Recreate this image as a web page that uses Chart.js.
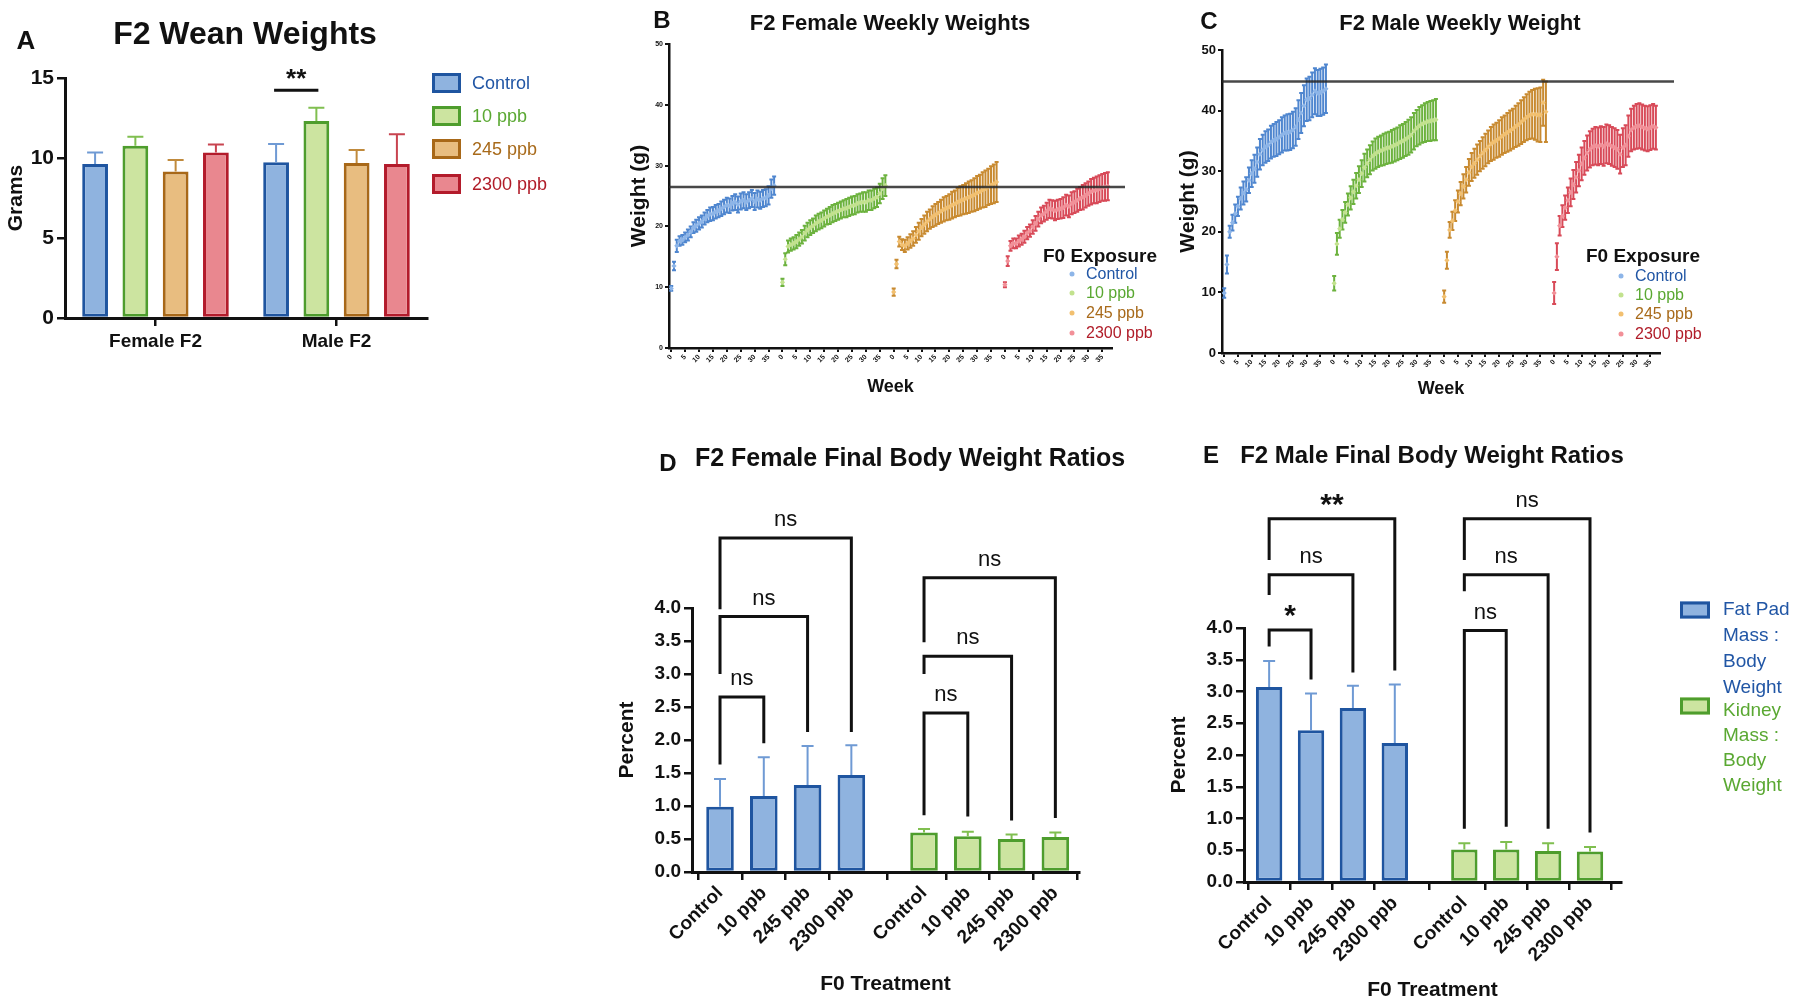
<!DOCTYPE html>
<html>
<head>
<meta charset="utf-8">
<script src="https://cdn.jsdelivr.net/npm/chart.js@4.4.1/dist/chart.umd.min.js"></script>
<style>
  body { margin: 0; background: #fff; width: 1800px; height: 1005px; position: relative; overflow: hidden;
         font-family: 'Liberation Sans', Arial, sans-serif; color: #111; }
  .pane { position: absolute; }
  .txt { position: absolute; white-space: nowrap; transform: translate(-50%, -50%); font-weight: bold; }
  .lbl { position: absolute; white-space: nowrap; transform: translateY(-50%); }
  .swatch { position: absolute; box-sizing: border-box; border: 3px solid; transform: translateY(-50%); }
  .dot { position: absolute; width: 5px; height: 5px; border-radius: 50%; transform: translate(-50%, -50%); }
</style>
</head>
<body>

<div class="pane" style="left:0;top:0"><canvas id="cA" width="600" height="420"></canvas></div>
<div class="pane" style="left:600px;top:0"><canvas id="cB" width="560" height="420"></canvas></div>
<div class="pane" style="left:1160px;top:0"><canvas id="cC" width="640" height="420"></canvas></div>
<div class="pane" style="left:600px;top:420px"><canvas id="cD" width="540" height="585"></canvas></div>
<div class="pane" style="left:1140px;top:420px"><canvas id="cE" width="660" height="585"></canvas></div>

<!-- panel letters + titles -->
<div class="txt" style="left:26px;top:40px;font-size:26px">A</div>
<div class="txt" style="left:245px;top:33px;font-size:32px">F2 Wean Weights</div>
<div class="txt" style="left:662px;top:20px;font-size:24px">B</div>
<div class="txt" style="left:890px;top:23px;font-size:22px">F2 Female Weekly Weights</div>
<div class="txt" style="left:1209px;top:21px;font-size:24px">C</div>
<div class="txt" style="left:1460px;top:23px;font-size:22px">F2 Male Weekly Weight</div>
<div class="txt" style="left:668px;top:463px;font-size:24px">D</div>
<div class="txt" style="left:910px;top:457px;font-size:25px">F2 Female Final Body Weight Ratios</div>
<div class="txt" style="left:1211px;top:455px;font-size:24px">E</div>
<div class="txt" style="left:1432px;top:455px;font-size:24px">F2 Male Final Body Weight Ratios</div>

<div id="legA"></div>
<div id="legB"></div>
<div id="legC"></div>
<div id="legE"></div>

<script>
// ---- data ----
const treatments = ['Control', '10 ppb', '245 ppb', '2300 ppb'];

// A: wean weights (g), [Female F2, Male F2]
const weanGroups = ['Female F2', 'Male F2'];
const weanControl = [9.63, 9.73];
const wean10 = [10.77, 12.31];
const wean245 = [9.15, 9.69];
const wean2300 = [10.35, 9.63];
const weanControlErr = [0.72, 1.14];
const wean10Err = [0.56, 0.83];
const wean245Err = [0.73, 0.81];
const wean2300Err = [0.50, 1.85];
const weanSigY = 14.24;

// B / C: weekly weights
const weeks = [0,1,2,3,4,5,6,7,8,9,10,11,12,13,14,15,16,17,18,19,20,21,22,23,24,25,26,27,28,29,30,31,32,33,34,35,36,37];
const groupOffsets = [0, 40, 80, 120];
const weekTickVals = [0, 5, 10, 15, 20, 25, 30, 35];
const weekTickLabels = ['0', '5', '10', '15', '20', '25', '30', '35'];

const femControl = [9.8,13.5,16.8,17.6,17.8,18.2,18.6,19.1,19.8,20.1,20.5,20.8,21.3,21.7,22.0,22.1,22.4,22.6,22.9,23.2,23.5,23.4,23.8,24.0,23.6,24.1,24.3,24.0,24.3,24.6,24.1,24.5,24.3,24.6,24.7,25.1,26.2,26.7];
const femControlSd = [0.4,0.7,1.0,0.8,0.8,0.8,0.9,0.9,0.9,1.0,1.0,1.0,1.0,1.0,1.1,1.1,1.1,1.1,1.2,1.2,1.2,1.2,1.2,1.3,1.3,1.3,1.3,1.3,1.3,1.4,1.4,1.4,1.4,1.4,1.4,1.5,1.5,1.5];
const fem10 = [10.8,14.6,16.7,17.0,17.2,17.5,17.9,18.3,18.9,19.4,19.8,20.1,20.5,20.8,21.0,21.3,21.6,21.8,22.1,22.3,22.5,22.7,22.9,23.0,23.2,23.4,23.5,23.8,23.9,24.0,24.0,24.3,24.3,24.6,24.8,25.4,26.2,26.7];
const fem10Sd = [0.6,1.0,1.0,1.0,1.0,1.1,1.1,1.1,1.2,1.2,1.2,1.2,1.3,1.3,1.3,1.3,1.3,1.4,1.4,1.4,1.4,1.4,1.4,1.5,1.5,1.5,1.5,1.5,1.5,1.6,1.6,1.6,1.6,1.6,1.6,1.6,1.7,1.7];
const fem245 = [9.2,13.8,17.5,17.0,16.8,17.2,17.6,18.0,18.6,19.2,19.8,20.3,20.8,21.2,21.6,21.9,22.2,22.5,22.8,23.0,23.2,23.5,23.7,24.0,24.2,24.4,24.6,24.8,25.0,25.2,25.5,25.7,26.0,26.2,26.5,26.8,27.0,27.3];
const fem245Sd = [0.6,0.7,0.8,0.9,1.0,1.0,1.1,1.2,1.3,1.4,1.4,1.5,1.6,1.6,1.7,1.8,1.8,1.9,2.0,2.0,2.1,2.2,2.2,2.3,2.4,2.4,2.5,2.6,2.6,2.7,2.8,2.8,2.9,3.0,3.0,3.1,3.2,3.3];
const fem2300 = [10.4,14.3,16.8,17.2,17.2,17.6,17.9,18.3,18.9,19.3,19.9,20.5,21.2,21.8,22.1,22.5,22.9,22.8,22.6,22.8,22.9,23.1,23.5,23.3,23.8,24.0,24.3,24.6,24.8,25.1,25.4,25.7,25.9,26.0,26.2,26.4,26.5,26.6];
const fem2300Sd = [0.4,0.8,0.8,0.8,0.8,0.9,0.9,1.0,1.0,1.0,1.1,1.2,1.2,1.3,1.3,1.4,1.5,1.5,1.6,1.6,1.6,1.7,1.7,1.8,1.8,1.8,1.9,1.9,2.0,2.0,2.0,2.1,2.1,2.2,2.2,2.2,2.3,2.3];
const femRefLine = 26.5;

const maleControl = [9.9,14.6,20.0,21.5,23.0,24.2,25.5,26.4,27.0,28.5,29.6,30.4,31.5,32.8,33.5,34.0,34.3,34.8,35.1,35.3,35.6,36.0,36.3,36.4,36.5,36.8,37.3,38.5,39.6,40.8,41.8,42.0,42.6,43.2,42.9,43.0,43.2,43.6];
const maleControlSd = [0.8,1.5,1.0,1.3,1.5,1.6,1.8,1.9,2.0,2.1,2.2,2.3,2.4,2.5,2.5,2.6,2.6,2.7,2.7,2.8,2.8,2.9,2.9,3.0,3.0,3.0,3.1,3.2,3.3,3.4,3.5,3.6,3.7,3.8,3.8,3.9,3.9,4.0];
const male10 = [11.5,18.0,20.5,22.0,23.2,24.5,25.6,26.6,27.6,28.6,29.6,30.6,31.3,31.9,32.5,32.9,33.2,33.4,33.6,33.8,33.9,34.1,34.3,34.5,34.8,35.0,35.3,35.6,36.0,36.6,37.1,37.5,37.8,38.0,38.2,38.3,38.4,38.5];
const male10Sd = [1.2,1.8,1.5,1.6,1.7,1.8,1.9,2.0,2.1,2.2,2.2,2.3,2.3,2.4,2.4,2.5,2.5,2.5,2.6,2.6,2.6,2.7,2.7,2.7,2.8,2.8,2.8,2.9,2.9,3.0,3.0,3.1,3.1,3.2,3.2,3.3,3.3,3.4];
const male245 = [9.3,15.3,20.3,21.8,23.5,25.0,26.3,27.5,28.6,29.8,30.7,31.3,31.9,32.5,33.0,33.5,34.0,34.5,34.8,35.1,35.4,35.8,36.1,36.4,36.7,37.0,37.4,37.7,38.1,38.5,38.9,39.2,39.4,39.4,39.3,39.3,41.3,39.8];
const male245Sd = [1.0,1.4,1.3,1.5,1.7,1.8,1.9,2.0,2.1,2.2,2.3,2.4,2.5,2.5,2.6,2.7,2.7,2.8,2.9,2.9,3.0,3.1,3.1,3.2,3.3,3.3,3.4,3.5,3.6,3.7,3.8,3.9,4.0,4.2,4.4,4.5,3.8,5.0];
const male2300 = [9.9,15.9,21.0,22.6,24.0,25.2,26.5,27.8,29.0,30.1,31.2,32.2,33.0,33.6,34.0,34.2,34.1,34.3,34.1,34.5,34.4,34.1,33.9,33.6,32.8,33.9,34.3,35.8,36.8,37.2,37.4,37.5,37.3,37.1,37.0,37.2,37.4,37.2];
const male2300Sd = [1.8,2.2,1.6,1.8,2.0,2.1,2.3,2.4,2.5,2.6,2.7,2.8,2.9,3.0,3.0,3.1,3.1,3.1,3.2,3.2,3.2,3.2,3.2,3.2,3.2,3.2,3.3,3.4,3.5,3.6,3.7,3.7,3.7,3.7,3.7,3.7,3.7,3.6];
const maleRefLine = 44.8;

// D / E: final body weight ratios (%)
const barX = [0, 1, 2, 3, 4.66, 5.66, 6.66, 7.66];
const femFat = [0.99, 1.15, 1.32, 1.47];
const femFatErr = [0.42, 0.59, 0.59, 0.45];
const femKidney = [0.60, 0.54, 0.50, 0.53];
const femKidneyErr = [0.05, 0.07, 0.07, 0.07];
const maleFat = [3.07, 2.39, 2.74, 2.19];
const maleFatErr = [0.41, 0.58, 0.35, 0.92];
const maleKidney = [0.51, 0.51, 0.49, 0.48];
const maleKidneyErr = [0.10, 0.12, 0.12, 0.07];

// brackets: [from bar, to bar, top, left leg end, right leg end, label]
const femBrackets = [
  [0, 1, 2.65, 1.63, 1.95, 'ns'],
  [0, 2, 3.87, 3.00, 2.12, 'ns'],
  [0, 3, 5.06, 3.98, 2.12, 'ns'],
  [4, 5, 2.41, 0.86, 0.84, 'ns'],
  [4, 6, 3.27, 3.00, 0.78, 'ns'],
  [4, 7, 4.46, 3.48, 0.82, 'ns']
];
const maleBrackets = [
  [0, 1, 3.97, 3.71, 3.19, '*'],
  [0, 2, 4.84, 4.52, 3.30, 'ns'],
  [0, 3, 5.72, 5.07, 3.33, '**'],
  [4, 5, 3.96, 0.84, 0.87, 'ns'],
  [4, 6, 4.84, 4.58, 0.84, 'ns'],
  [4, 7, 5.72, 5.07, 0.78, 'ns']
];

// ---- styles ----
const FONT = "'Liberation Sans', Arial, sans-serif";
const INK = '#111';
const fills   = ['#8fb3df', '#cce4a0', '#e8bd80', '#e9878f'];
const borders = ['#1f55a0', '#4e9d2d', '#a86818', '#b31b2b'];
const errCols = ['#6f9ad4', '#80bf50', '#c08a3c', '#c84450'];
const txtCols = ['#2156a5', '#5aa832', '#a86a1a', '#b01c28'];
const ptCols  = ['#8db5e8', '#c2e28e', '#f2c070', '#f29098'];
const ptErr   = ['#4f86cf', '#6cb23e', '#c88a30', '#d84a58'];

Chart.defaults.font.family = FONT;
Chart.defaults.color = INK;
Chart.defaults.animation = false;

function drawErrors(chart, behind) {
  const ctx = chart.ctx;
  chart.data.datasets.forEach((ds, i) => {
    if (!ds.errors || !!ds.errorsBehind !== behind) return;
    const meta = chart.getDatasetMeta(i);
    const ys = chart.scales[meta.yAxisID];
    ctx.save();
    ctx.strokeStyle = ds.errorColor;
    ctx.lineWidth = ds.errorWidth || 2;
    meta.data.forEach((el, j) => {
      const d = ds.data[j];
      const v = typeof d === 'object' ? d.y : d;
      const e = ds.errors[j];
      const top = ys.getPixelForValue(v + e);
      const bot = ds.errorBoth ? ys.getPixelForValue(v - e) : el.y;
      const c = ds.capHalf || 0;
      ctx.beginPath();
      ctx.moveTo(el.x, bot); ctx.lineTo(el.x, top);
      if (c) {
        ctx.moveTo(el.x - c, top); ctx.lineTo(el.x + c, top);
        if (ds.errorBoth) { ctx.moveTo(el.x - c, bot); ctx.lineTo(el.x + c, bot); }
      }
      ctx.stroke();
    });
    ctx.restore();
  });
}
const errorBarPlugin = {
  id: 'errorBars',
  beforeDatasetsDraw(chart) { drawErrors(chart, true); },
  afterDatasetsDraw(chart) { drawErrors(chart, false); }
};

function refLinePlugin(value, extend) {
  return {
    id: 'refLine',
    afterDatasetsDraw(chart) {
      const ctx = chart.ctx, a = chart.chartArea;
      const y = chart.scales.y.getPixelForValue(value);
      ctx.save();
      ctx.strokeStyle = 'rgba(40,40,40,0.85)';
      ctx.lineWidth = 2.5;
      ctx.beginPath(); ctx.moveTo(a.left, y); ctx.lineTo(a.right + extend, y); ctx.stroke();
      ctx.restore();
    }
  };
}

function bracketPlugin(items) {
  return {
    id: 'brackets',
    afterDraw(chart) {
      const ctx = chart.ctx, xs = chart.scales.x, ys = chart.scales.y;
      ctx.save();
      ctx.strokeStyle = INK; ctx.fillStyle = INK; ctx.lineWidth = 3;
      ctx.textAlign = 'center'; ctx.textBaseline = 'bottom';
      items.forEach(([a, b, top, l, r, lab]) => {
        const x1 = xs.getPixelForValue(barX[a]), x2 = xs.getPixelForValue(barX[b]);
        const yt = ys.getPixelForValue(top);
        ctx.beginPath();
        ctx.moveTo(x1, ys.getPixelForValue(l));
        ctx.lineTo(x1, yt); ctx.lineTo(x2, yt);
        ctx.lineTo(x2, ys.getPixelForValue(r));
        ctx.stroke();
        const star = lab !== 'ns';
        ctx.font = (star ? 'bold 30px ' : '22px ') + FONT;
        ctx.fillText(lab, (x1 + x2) / 2, yt - (star ? -2 : 7));
      });
      ctx.restore();
    }
  };
}

const weanSigPlugin = {
  id: 'weanSig',
  afterDraw(chart) {
    const ctx = chart.ctx, ys = chart.scales.y;
    const x1 = chart.getDatasetMeta(0).data[1].x, x2 = chart.getDatasetMeta(1).data[1].x;
    const y = ys.getPixelForValue(weanSigY);
    ctx.save();
    ctx.strokeStyle = INK; ctx.lineWidth = 3;
    ctx.beginPath(); ctx.moveTo(x1 - 2, y); ctx.lineTo(x2 + 2, y); ctx.stroke();
    ctx.fillStyle = INK; ctx.font = 'bold 26px ' + FONT; ctx.textAlign = 'center'; ctx.textBaseline = 'bottom';
    ctx.fillText('**', (x1 + x2) / 2, y + 3);
    ctx.restore();
  }
};

function axisStyle(extra) {
  return Object.assign({
    grid: { drawOnChartArea: false, color: INK, lineWidth: 2.5, tickLength: 8 },
    border: { color: INK, width: 3 }
  }, extra);
}

// ---- A ----
const weanMeans = [weanControl, wean10, wean245, wean2300];
const weanErrs = [weanControlErr, wean10Err, wean245Err, wean2300Err];
new Chart(document.getElementById('cA'), {
  type: 'bar',
  data: {
    labels: weanGroups,
    datasets: treatments.map((t, k) => ({
      label: t, data: weanMeans[k], errors: weanErrs[k], errorColor: errCols[k], capHalf: 8, errorWidth: 2,
      backgroundColor: fills[k], borderColor: borders[k], borderWidth: 3, borderSkipped: false
    }))
  },
  options: {
    responsive: false,
    layout: { padding: { top: 78, right: 173, left: 0, bottom: 0 } },
    plugins: { legend: { display: false }, tooltip: { enabled: false } },
    datasets: { bar: { categoryPercentage: 0.89, barPercentage: 0.64 } },
    scales: {
      x: axisStyle({
        grid: { offset: false, drawOnChartArea: false, color: INK, lineWidth: 2.5, tickLength: 8 },
        ticks: { font: { size: 19, weight: 'bold' }, color: INK, padding: 4 },
        afterFit(s) { s.height = 102; }
      }),
      y: axisStyle({
        min: 0, max: 15,
        ticks: { stepSize: 5, font: { size: 21, weight: 'bold' }, color: INK, padding: 3 },
        title: { display: true, text: 'Grams', font: { size: 21, weight: 'bold' }, color: INK, padding: { top: 4, bottom: 0 } },
        afterFit(s) { s.width = 65; }
      })
    }
  },
  plugins: [errorBarPlugin, weanSigPlugin]
});

// ---- B / C ----
function weeklyChart(id, series, sds, cfg) {
  return new Chart(document.getElementById(id), {
    type: 'scatter',
    data: {
      datasets: series.map((vals, k) => ({
        label: treatments[k],
        data: weeks.map((w, j) => ({ x: groupOffsets[k] + w, y: vals[j] })),
        errors: sds[k], errorBoth: true, errorsBehind: true, errorColor: ptErr[k], errorWidth: 2, capHalf: 2,
        pointStyle: 'rectRot', pointRadius: 2.6, backgroundColor: ptCols[k], borderWidth: 0
      }))
    },
    options: {
      responsive: false,
      layout: { padding: { top: cfg.top, right: cfg.right, left: 0, bottom: 0 } },
      plugins: { legend: { display: false }, tooltip: { enabled: false } },
      scales: {
        x: axisStyle({
          type: 'linear', min: -0.8, max: 158.5,
          grid: { drawOnChartArea: false, color: INK, lineWidth: 2, tickLength: 4 },
          border: { color: INK, width: 2.5 },
          afterBuildTicks(s) { s.ticks = groupOffsets.flatMap(o => weekTickVals.map(w => ({ value: o + w }))); },
          ticks: { autoSkip: false, minRotation: 45, maxRotation: 45, font: { size: 7, weight: 'bold' }, color: INK, padding: 1,
                   callback: (v, i) => weekTickLabels[i % weekTickLabels.length] },
          title: { display: true, text: 'Week', font: { size: 18, weight: 'bold' }, color: INK, padding: { top: 0, bottom: cfg.weekPad } },
          afterFit(s) { s.height = cfg.xh; }
        }),
        y: axisStyle({
          min: 0, max: 50,
          grid: { drawOnChartArea: false, color: INK, lineWidth: 2, tickLength: 4 },
          border: { color: INK, width: 2.5 },
          ticks: { stepSize: 10, font: { size: cfg.yFont, weight: 'bold' }, color: INK, padding: 2 },
          title: { display: true, text: 'Weight (g)', font: { size: 21, weight: 'bold' }, color: INK, padding: { top: cfg.yTitlePad, bottom: 0 } },
          afterFit(s) { s.width = cfg.yw; }
        })
      }
    },
    plugins: [errorBarPlugin, refLinePlugin(cfg.ref, cfg.refExt)]
  });
}
weeklyChart('cB', [femControl, fem10, fem245, fem2300], [femControlSd, fem10Sd, fem245Sd, fem2300Sd],
  { top: 44, right: 48, xh: 72, yw: 69, weekPad: 22, yTitlePad: 27, yFont: 7, ref: femRefLine, refExt: 13 });
weeklyChart('cC', [maleControl, male10, male245, male2300], [maleControlSd, male10Sd, male245Sd, male2300Sd],
  { top: 50, right: 140, xh: 67, yw: 62, weekPad: 20, yTitlePad: 16, yFont: 13, ref: maleRefLine, refExt: 14 });

// ---- D / E ----
function ratioChart(id, fat, fatErr, kidney, kidneyErr, brackets, cfg) {
  return new Chart(document.getElementById(id), {
    type: 'bar',
    data: {
      datasets: [
        { label: 'Fat Pad Mass : Body Weight', data: fat.map((v, i) => ({ x: barX[i], y: v })),
          errors: fatErr, errorColor: errCols[0], capHalf: 6, errorWidth: 2,
          backgroundColor: fills[0], borderColor: borders[0], borderWidth: 3, borderSkipped: false },
        { label: 'Kidney Mass : Body Weight', data: kidney.map((v, i) => ({ x: barX[i + 4], y: v })),
          errors: kidneyErr, errorColor: errCols[1], capHalf: 6, errorWidth: 2,
          backgroundColor: fills[1], borderColor: borders[1], borderWidth: 3, borderSkipped: false }
      ]
    },
    options: {
      responsive: false,
      layout: { padding: { top: cfg.top, right: cfg.right, left: 0, bottom: 0 } },
      plugins: { legend: { display: false }, tooltip: { enabled: false } },
      datasets: { bar: { grouped: false, categoryPercentage: 1, barPercentage: 0.63 } },
      scales: {
        x: axisStyle({
          type: 'linear', offset: false, min: cfg.xmin, max: cfg.xmax,
          afterBuildTicks(s) { s.ticks = barX.map(v => ({ value: v })); },
          ticks: { autoSkip: false, minRotation: 45, maxRotation: 45, font: { size: 19, weight: 'bold' }, color: INK, padding: 2,
                   callback: (v, i) => treatments[i % 4] },
          title: { display: true, text: 'F0 Treatment', font: { size: 21, weight: 'bold' }, color: INK, padding: { top: 0, bottom: cfg.xTitlePad } },
          afterFit(s) { s.height = cfg.xh; }
        }),
        y: axisStyle({
          min: 0, max: 4,
          ticks: { stepSize: 0.5, font: { size: 19, weight: 'bold' }, color: INK, padding: 3, callback: v => v.toFixed(1) },
          title: { display: true, text: 'Percent', font: { size: 21, weight: 'bold' }, color: INK, padding: { top: cfg.yTitlePad, bottom: 0 } },
          afterFit(s) { s.width = cfg.yw; }
        })
      }
    },
    plugins: [errorBarPlugin, bracketPlugin(brackets)]
  });
}
ratioChart('cD', femFat, femFatErr, femKidney, femKidneyErr, femBrackets,
  { top: 188, right: 61, xh: 133, yw: 92, xTitlePad: 8, yTitlePad: 15, xmin: -0.64, xmax: 8.2 });
ratioChart('cE', maleFat, maleFatErr, maleKidney, maleKidneyErr, maleBrackets,
  { top: 208, right: 179, xh: 123, yw: 104, xTitlePad: 2, yTitlePad: 27, xmin: -0.6, xmax: 8.4 });

// ---- legends (html) ----
const legA = document.getElementById('legA');
const legAY = [83, 116, 149, 184];
treatments.forEach((t, k) => {
  legA.insertAdjacentHTML('beforeend',
    `<div class="swatch" style="left:432px;top:${legAY[k]}px;width:29px;height:20px;background:${fills[k]};border-color:${borders[k]}"></div>` +
    `<div class="lbl" style="left:472px;top:${legAY[k]}px;font-size:18px;color:${txtCols[k]}">${t}</div>`);
});
function weeklyLegend(elId, left, dotX, textX, ys) {
  const el = document.getElementById(elId);
  el.insertAdjacentHTML('beforeend', `<div class="lbl" style="left:${left}px;top:256px;font-size:19px;font-weight:bold">F0 Exposure</div>`);
  treatments.forEach((t, k) => {
    el.insertAdjacentHTML('beforeend',
      `<div class="dot" style="left:${dotX}px;top:${ys[k]}px;background:${ptCols[k]}"></div>` +
      `<div class="lbl" style="left:${textX}px;top:${ys[k]}px;font-size:16px;color:${txtCols[k]}">${t}</div>`);
  });
}
weeklyLegend('legB', 1043, 1072, 1086, [274, 293, 313, 333]);
weeklyLegend('legC', 1586, 1621, 1635, [276, 295, 314, 334]);

document.getElementById('legE').innerHTML =
  `<div class="swatch" style="left:1680px;top:610px;width:30px;height:17px;background:${fills[0]};border-color:${borders[0]}"></div>` +
  `<div style="position:absolute;left:1723px;top:596px;font-size:19px;line-height:26px;color:${txtCols[0]}">Fat Pad<br>Mass :<br>Body<br>Weight</div>` +
  `<div class="swatch" style="left:1680px;top:706px;width:30px;height:17px;background:${fills[1]};border-color:${borders[1]}"></div>` +
  `<div style="position:absolute;left:1723px;top:697px;font-size:19px;line-height:25px;color:${txtCols[1]}">Kidney<br>Mass :<br>Body<br>Weight</div>`;
</script>
</body>
</html>
